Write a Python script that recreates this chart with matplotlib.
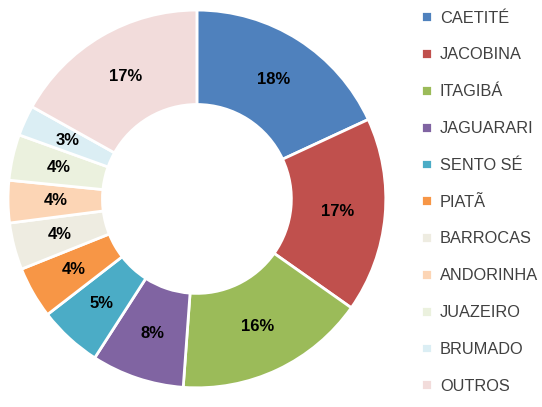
import matplotlib
matplotlib.use("Agg")
import matplotlib.pyplot as plt

# dados
cidades = ['CAETITÉ', 'JACOBINA', 'ITAGIBÁ', 'JAGUARARI', 'SENTO SÉ', 'PIATÃ',
           'BARROCAS', 'ANDORINHA', 'JUAZEIRO', 'BRUMADO', 'OUTROS']
valores = [18.0, 16.6, 16.3, 7.9, 5.4, 4.4, 4.0, 3.6, 3.9, 2.6, 16.8]
cores = ['#4f81bd', '#c0504d', '#9bbb59', '#8064a2', '#4bacc6', '#f79646',
         '#eeece1', '#fcd5b5', '#ebf1de', '#dbeef4', '#f2dcdb']

plt.rcParams['font.family'] = ['Liberation Sans', 'DejaVu Sans']

fig = plt.figure(figsize=(5.42, 4.07), dpi=100)
ax = fig.add_axes([0.0148, 0.0467, 0.697, 0.929])

wedges, textos, pcts = ax.pie(valores, colors=cores, startangle=90, counterclock=False,
                              autopct='%.0f%%', pctdistance=0.75,
                              wedgeprops=dict(width=0.5, edgecolor='white', linewidth=2),
                              textprops=dict(fontsize=12, fontweight='bold', color='black'))
ax.set_xlim(-1, 1)
ax.set_ylim(-1, 1)
ax.set_aspect('equal')

leg = fig.legend(wedges, cidades, loc='upper left', bbox_to_anchor=(0.777, 0.974),
                 frameon=False, fontsize=11.8, handlelength=0.65, handleheight=0.65,
                 handletextpad=0.5, labelspacing=1.33, borderaxespad=0,
                 borderpad=0)
for t in leg.get_texts():
    t.set_color('#404040')

fig.savefig('out.png', dpi=100)
